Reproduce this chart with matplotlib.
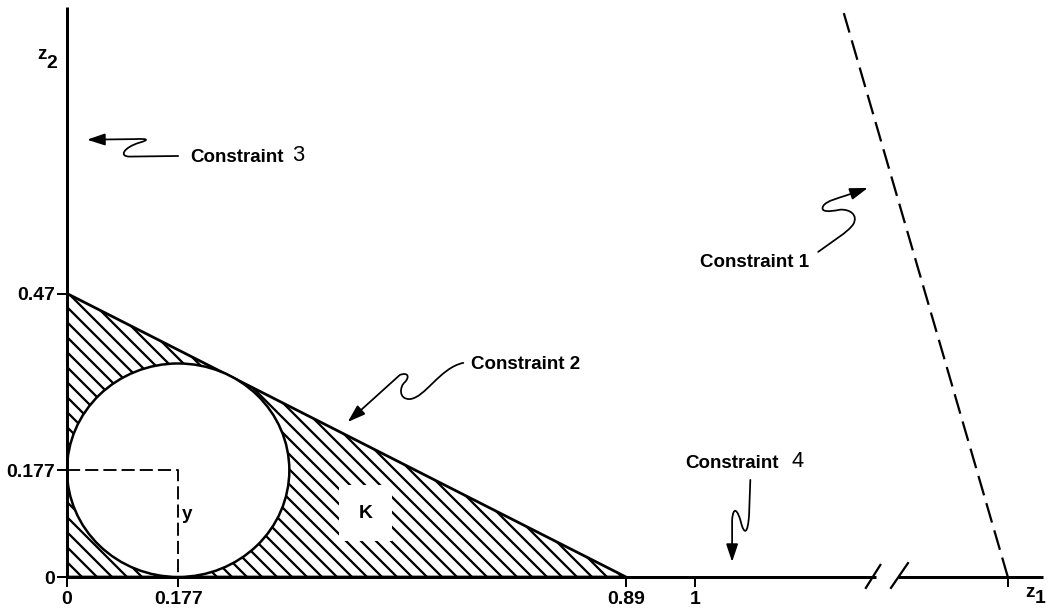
import matplotlib
matplotlib.use('Agg')
import matplotlib.pyplot as plt
from matplotlib.patches import Polygon, Circle, FancyArrowPatch
from matplotlib.path import Path

# ---------------- data ----------------
x_ticks = [0, 0.177, 0.89, 1]
x_ticklabels = ['0', '0.177', '0.89', '1']
y_ticks = [0, 0.177, 0.47]
y_ticklabels = ['0', '0.177', '0.47']

# feasible region K (Constraint 2 with the axes)
region_x = [0, 0.89, 0]
region_y = [0, 0, 0.47]

# largest inscribed ball
ball_center_x = 0.177
ball_center_y = 0.177
ball_radius = 0.177

# Constraint 1 (dashed, beyond the axis break)
constraint1_x = [1.498, 1.234]
constraint1_y = [0, 0.945]
far_tick = 1.498

# axis extents / break
x_max = 1.554
y_max = 0.945
break_left = 1.288
break_right = 1.323

# ---------------- figure ----------------
plt.rcParams['font.family'] = ['Liberation Sans', 'DejaVu Sans']
plt.rcParams['hatch.linewidth'] = 1.8

DPI = 90
fig = plt.figure(figsize=(1051 / DPI, 611 / DPI), dpi=DPI)
ax = fig.add_axes([67 / 1051, 34 / 611, 976 / 1051, 570 / 611])
ax.set_xlim(0, x_max)
ax.set_ylim(0, y_max)
for s in ax.spines.values():
    s.set_visible(False)

ax.set_xticks(x_ticks + [far_tick], x_ticklabels + [''])
ax.set_yticks(y_ticks, y_ticklabels)
ax.tick_params(axis='both', direction='out', length=8, width=1.6, labelsize=15.5)
ax.tick_params(axis='y', pad=1.5)
ax.tick_params(axis='x', pad=3)
for lab in ax.get_xticklabels() + ax.get_yticklabels():
    lab.set_fontweight('bold')

# axes lines
ax.plot([0, 0], [0, y_max], color='black', lw=2.4, clip_on=False, solid_capstyle='butt', zorder=5)
ax.plot([0, break_left], [0, 0], color='black', lw=2.4, clip_on=False, solid_capstyle='butt', zorder=5)
ax.plot([break_right, x_max], [0, 0], color='black', lw=2.4, clip_on=False, solid_capstyle='butt', zorder=5)
# break marks
ax.plot([1.272, 1.295], [-0.018, 0.020], color='black', lw=1.8, clip_on=False, zorder=5)
ax.plot([1.312, 1.339], [-0.018, 0.023], color='black', lw=1.8, clip_on=False, zorder=5)

# hatched region
tri = Polygon(list(zip(region_x, region_y)), closed=True, facecolor='white',
              edgecolor='black', hatch='\\\\', lw=2.2, zorder=2)
ax.add_patch(tri)
ball = Circle((ball_center_x, ball_center_y), ball_radius, facecolor='white',
              edgecolor='black', lw=2.0, zorder=3)
ax.add_patch(ball)

# radius markers
ax.plot([0, ball_center_x, ball_center_x], [ball_center_y, ball_center_y, 0],
        color='black', lw=1.5, ls=(0, (7, 2.7)), zorder=4)
ax.text(0.191, 0.103, 'y', fontsize=15, fontweight='bold', ha='center', va='center', zorder=6)

ax.text(0.475, 0.106, 'K', fontsize=15.5, fontweight='bold', ha='center', va='center', zorder=6,
        bbox=dict(boxstyle='square,pad=1.0', fc='white', ec='none'))

# Constraint 1 dashed line
ax.plot(constraint1_x, constraint1_y, color='black', lw=1.8, ls=(0, (9, 3.6)), clip_on=False, zorder=4)

# axis labels
ax.text(-0.040, 0.866, 'z', fontsize=15, fontweight='bold', ha='center', va='center', clip_on=False)
ax.text(-0.024, 0.851, '2', fontsize=15.5, fontweight='bold', ha='center', va='center', clip_on=False)
ax.text(1.533, -0.026, 'z', fontsize=15, fontweight='bold', ha='center', va='center', clip_on=False)
ax.text(1.550, -0.036, '1', fontsize=15.5, fontweight='bold', ha='center', va='center', clip_on=False)

# constraint labels
lbl = dict(fontsize=15, fontweight='bold', ha='left', va='center')
ax.text(0.197, 0.695, 'Constraint', **lbl)
ax.text(0.359, 0.698, '3', fontsize=17.5, ha='left', va='center')
ax.text(0.643, 0.352, 'Constraint 2', **lbl)
ax.text(1.008, 0.522, 'Constraint 1', **lbl)
ax.text(0.984, 0.189, 'Constraint', **lbl)
ax.text(1.153, 0.191, '4', fontsize=17.5, ha='left', va='center')

# squiggly arrows
M, L, C = Path.MOVETO, Path.LINETO, Path.CURVE4


def squiggle(verts, codes):
    p = Path(verts, codes)
    arr = FancyArrowPatch(path=p, arrowstyle='-|>,head_length=1.2,head_width=0.4',
                          mutation_scale=10, lw=1.4, color='black',
                          shrinkA=0, shrinkB=0, zorder=6, clip_on=False)
    ax.add_patch(arr)


squiggle([(0.177, 0.698), (0.100, 0.697), (0.082, 0.697), (0.090, 0.712), (0.115, 0.720),
          (0.132, 0.725), (0.128, 0.727), (0.110, 0.726), (0.032, 0.725)],
         [M, L, C, C, C, C, C, C, L])

squiggle([(0.631, 0.355), (0.594, 0.347), (0.570, 0.297), (0.546, 0.295),
          (0.527, 0.294), (0.530, 0.317), (0.538, 0.323),
          (0.546, 0.332), (0.543, 0.340), (0.530, 0.335), (0.447, 0.257)],
         [M, C, C, C, C, C, C, C, C, C, L])

squiggle([(1.196, 0.539), (1.218, 0.556), (1.244, 0.572), (1.252, 0.585),
          (1.260, 0.600), (1.247, 0.610), (1.231, 0.609),
          (1.212, 0.605), (1.199, 0.605), (1.204, 0.615),
          (1.209, 0.624), (1.231, 0.629), (1.239, 0.632), (1.275, 0.645)],
         [M, C, C, C, C, C, C, C, C, C, C, C, C, L])

squiggle([(1.088, 0.161), (1.086, 0.103), (1.084, 0.070), (1.078, 0.070), (1.073, 0.091),
          (1.068, 0.111), (1.061, 0.119), (1.059, 0.095), (1.059, 0.025)],
         [M, L, C, C, C, C, C, C, L])

fig.savefig('out.png', dpi=DPI, facecolor='white')
